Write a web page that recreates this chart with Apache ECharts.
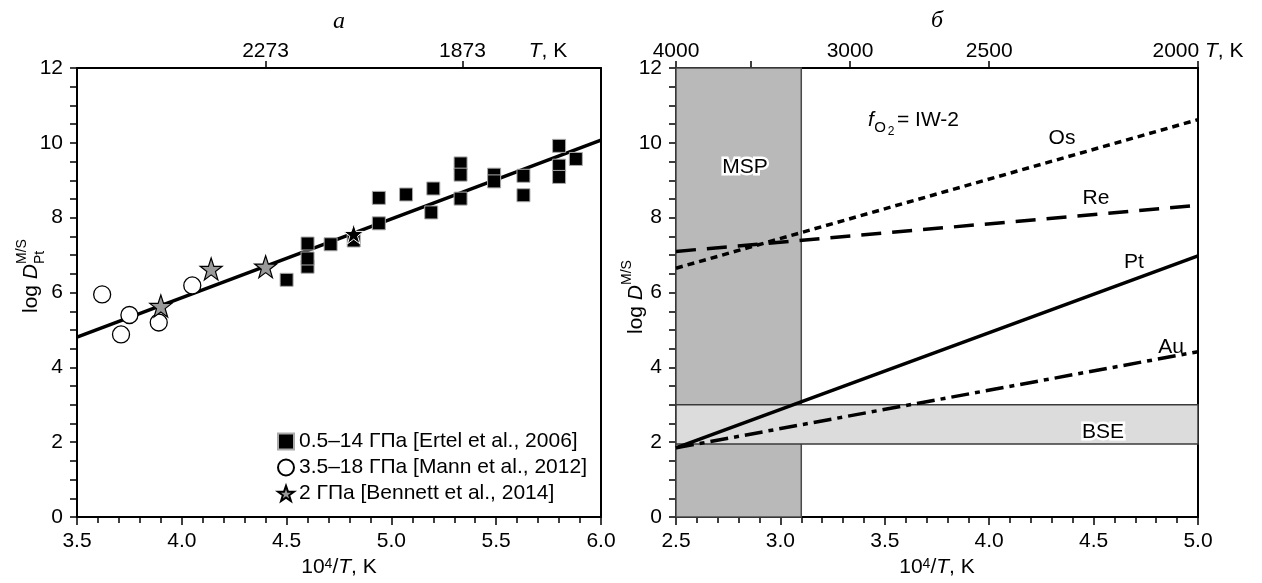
<!DOCTYPE html>
<html>
<head>
<meta charset="utf-8">
<script src="https://cdn.jsdelivr.net/npm/echarts@6/dist/echarts.min.js"></script>
<style>
  html, body { margin: 0; padding: 0; background: #fff; }
  #chart { width: 1262px; height: 583px; }
</style>
</head>
<body>
<div id="chart"></div>
<script>
// panel а: log D(Pt) vs 10^4/T
const ertelX = [4.50, 4.60, 4.60, 4.60, 4.71, 4.82, 4.94, 4.94, 5.07, 5.19, 5.20, 5.33, 5.33, 5.33, 5.49, 5.49, 5.63, 5.63, 5.80, 5.80, 5.80, 5.88];
const ertelY = [6.34, 7.31, 6.69, 6.91, 7.29, 7.39, 8.53, 7.85, 8.62, 8.14, 8.78, 9.45, 9.15, 8.51, 9.15, 8.97, 9.12, 8.60, 9.92, 9.39, 9.09, 9.57];
const mannX = [3.62, 3.71, 3.75, 3.89, 4.05];
const mannY = [5.95, 4.88, 5.40, 5.20, 6.19];
const bennettX = [3.90, 4.14, 4.40];
const bennettY = [5.64, 6.63, 6.69];
const bennettDarkX = [4.82];
const bennettDarkY = [7.57];
const fitX = [3.5, 6.0];
const fitY = [4.81, 10.07];
const topTempsLeft = [2273, 1873];

// panel б: model lines
const lineX = [2.5, 5.0];
const osY = [6.65, 10.62];
const reY = [7.10, 8.33];
const ptY = [1.85, 6.98];
const auY = [1.85, 4.42];
const mspRange = [2.5, 3.1];
const bseRange = [1.95, 3.0];
const topTempsRight = [4000, 3500, 3000, 2500, 2000];
const topLabelsRight = [4000, 3000, 2500, 2000];

const legendNames = ["0.5–14 ГПа [Ertel et al., 2006]", "3.5–18 ГПа [Mann et al., 2012]", "2 ГПа [Bennett et al., 2014]"];

const font = "'Liberation Sans', Arial, sans-serif";
const serif = "'Liberation Serif', 'Times New Roman', serif";
const star = "path://M50,2 L61.8,36.2 L97.6,36.2 L68.8,57.6 L79.4,92 L50,71.2 L20.6,92 L31.2,57.6 L2.4,36.2 L38.2,36.2 Z";
const fs = 21;

const pts = (xs, ys) => xs.map((x, i) => [x, ys[i]]);
const black = { color: "#000", width: 2 };
const tickStyle = { color: "#000", width: 1.5 };
const italic = { fontFamily: font, fontSize: fs, fontStyle: "italic", color: "#000" };

function bottomAxis(gridIndex, min, max) {
  return {
    type: "value", gridIndex, min, max, interval: 0.5,
    name: "10{sup|4}/{i|T}, K", nameLocation: "middle", nameGap: 38,
    nameTextStyle: {
      fontFamily: font, fontSize: fs, color: "#000",
      rich: {
        sup: { fontFamily: font, fontSize: 14, color: "#000", verticalAlign: "top", lineHeight: 21 },
        i: italic,
      },
    },
    axisLine: { show: true, onZero: false, lineStyle: black },
    axisTick: { show: true, length: 8, lineStyle: tickStyle },
    minorTick: { show: true, splitNumber: 5, length: 6, lineStyle: tickStyle },
    axisLabel: { fontFamily: font, fontSize: fs, color: "#000", margin: 14, formatter: (v) => v.toFixed(1) },
    splitLine: { show: false },
  };
}

function topAxis(gridIndex, min, max, tickTemps, labelTemps, unitAt) {
  return {
    type: "value", gridIndex, position: "top", min, max,
    axisLine: { show: true, onZero: false, lineStyle: black },
    axisTick: { show: true, length: 7, lineStyle: tickStyle, customValues: tickTemps.map((t) => 1e4 / t) },
    axisLabel: {
      fontFamily: font, fontSize: fs, color: "#000", margin: 6,
      customValues: labelTemps.map((t) => 1e4 / t),
      formatter: (v) => {
        const t = Math.round(1e4 / v);
        return t === unitAt ? t + " {i|T}, K" : String(t);
      },
      rich: { i: italic },
    },
    splitLine: { show: false },
  };
}

function leftAxis(gridIndex) {
  return {
    type: "value", gridIndex, min: 0, max: 12, interval: 2,
    axisLine: { show: true, onZero: false, lineStyle: black },
    axisTick: { show: true, length: 7, lineStyle: tickStyle },
    minorTick: { show: true, splitNumber: 4, length: 7, lineStyle: tickStyle },
    axisLabel: { fontFamily: font, fontSize: fs, color: "#000", margin: 14 },
    splitLine: { show: false },
  };
}

function rightLine(gridIndex) {
  return {
    type: "value", gridIndex, position: "right", min: 0, max: 12,
    axisLine: { show: true, onZero: false, lineStyle: black },
    axisTick: { show: false }, axisLabel: { show: false }, splitLine: { show: false },
  };
}

function label(text, x, y) {
  return { type: "text", x, y, z: 50, style: { text, fill: "#000", fontFamily: font, fontSize: fs, align: "center", verticalAlign: "middle" } };
}
function haloLabel(text, x, y) {
  const base = { fontFamily: font, fontSize: fs, align: "center", verticalAlign: "middle", text };
  return [
    { type: "text", x, y, z: 50, style: Object.assign({}, base, { fill: "#fff", stroke: "#fff", lineWidth: 5 }) },
    { type: "text", x, y, z: 51, style: Object.assign({}, base, { fill: "#000" }) },
  ];
}
function yName(x, y, withSub) {
  const kids = [
    { type: "text", x: -37, y: 0, style: { text: "log {i|D}", fill: "#000", fontFamily: font, fontSize: fs, align: "left", verticalAlign: "middle",
      rich: { i: { fontFamily: font, fontSize: fs, fontStyle: "italic", fill: "#000" } } } },
    { type: "text", x: 12, y: -9, style: { text: "M/S", fill: "#000", fontFamily: font, fontSize: 14, align: "left", verticalAlign: "middle" } },
  ];
  if (withSub) kids.push({ type: "text", x: 12, y: 9, style: { text: "Pt", fill: "#000", fontFamily: font, fontSize: 14, align: "left", verticalAlign: "middle" } });
  return { type: "group", x, y, rotation: Math.PI / 2, children: kids };
}

const chart = echarts.init(document.getElementById("chart"));

chart.setOption({
  backgroundColor: "#fff",
  animation: false,
  grid: [
    { left: 77, top: 68, width: 524, height: 456 },
    { left: 676, top: 68, width: 522, height: 456 },
  ],
  xAxis: [
    bottomAxis(0, 3.5, 6.0),
    topAxis(0, 3.5, 6.0, topTempsLeft, topTempsLeft, null),
    bottomAxis(1, 2.5, 5.0),
    topAxis(1, 2.5, 5.0, topTempsRight, topLabelsRight, 2000),
  ],
  yAxis: [leftAxis(0), rightLine(0), leftAxis(1), rightLine(1)],
  legend: {
    data: legendNames,
    orient: "vertical",
    left: 272, top: 426,
    itemWidth: 16, itemHeight: 16, itemGap: 5,
    textStyle: { fontFamily: font, fontSize: fs, color: "#000" },
  },
  series: [
    {
      type: "line", xAxisIndex: 0, yAxisIndex: 0, data: pts(fitX, fitY),
      symbol: "none", lineStyle: { color: "#000", width: 3.5 }, z: 2, silent: true,
    },
    {
      name: legendNames[0], type: "scatter", xAxisIndex: 0, yAxisIndex: 0, data: pts(ertelX, ertelY),
      symbol: "rect", symbolSize: 13, itemStyle: { color: "#000", borderColor: "#aaa", borderWidth: 1, opacity: 1 }, z: 4,
    },
    {
      name: legendNames[1], type: "scatter", xAxisIndex: 0, yAxisIndex: 0, data: pts(mannX, mannY),
      symbol: "circle", symbolSize: 17, itemStyle: { color: "#fff", borderColor: "#000", borderWidth: 1.3, opacity: 1 }, z: 4,
    },
    {
      name: legendNames[2], type: "scatter", xAxisIndex: 0, yAxisIndex: 0, data: pts(bennettX, bennettY),
      symbol: star, symbolSize: 22, itemStyle: { color: "#9a9a9a", borderColor: "#000", borderWidth: 1.2, opacity: 1 }, z: 5,
    },
    {
      name: "bennett-dark", type: "scatter", xAxisIndex: 0, yAxisIndex: 0, data: pts(bennettDarkX, bennettDarkY),
      symbol: star, symbolSize: 20, itemStyle: { color: "#000", borderColor: "#fff", borderWidth: 1, opacity: 1 }, z: 6,
    },
    {
      type: "line", xAxisIndex: 2, yAxisIndex: 2, data: [], silent: true,
      markArea: {
        silent: true, z: 1,
        itemStyle: { color: "#b9b9b9", borderColor: "#4a4a4a", borderWidth: 1.5 },
        data: [[{ xAxis: mspRange[0] }, { xAxis: mspRange[1] }]],
      },
    },
    {
      type: "line", xAxisIndex: 2, yAxisIndex: 2, data: [], silent: true,
      markArea: {
        silent: true, z: 2,
        itemStyle: { color: "#dcdcdc", borderColor: "#3a3a3a", borderWidth: 1.5 },
        data: [[{ yAxis: bseRange[0] }, { yAxis: bseRange[1] }]],
      },
    },
    { type: "line", xAxisIndex: 2, yAxisIndex: 2, data: pts(lineX, osY), symbol: "none", z: 5, silent: true,
      lineStyle: { color: "#000", width: 3.5, type: [7, 5] } },
    { type: "line", xAxisIndex: 2, yAxisIndex: 2, data: pts(lineX, reY), symbol: "none", z: 5, silent: true,
      lineStyle: { color: "#000", width: 3.5, type: [20, 11] } },
    { type: "line", xAxisIndex: 2, yAxisIndex: 2, data: pts(lineX, ptY), symbol: "none", z: 5, silent: true,
      lineStyle: { color: "#000", width: 3.5 } },
    { type: "line", xAxisIndex: 2, yAxisIndex: 2, data: pts(lineX, auY), symbol: "none", z: 5, silent: true,
      lineStyle: { color: "#000", width: 3.5, type: [18, 6, 5, 6] } },
  ],
  graphic: [
    { type: "text", x: 339, y: 22, style: { text: "а", fill: "#000", fontFamily: serif, fontSize: 24, fontStyle: "italic", align: "center", verticalAlign: "middle" } },
    { type: "text", x: 937, y: 21, style: { text: "б", fill: "#000", fontFamily: serif, fontSize: 24, fontStyle: "italic", align: "center", verticalAlign: "middle" } },
    { type: "text", x: 548, y: 51, style: { text: "{i|T}, K", fill: "#000", fontFamily: font, fontSize: fs, align: "center", verticalAlign: "middle",
      rich: { i: { fontFamily: font, fontSize: fs, fontStyle: "italic", fill: "#000" } } } },
    yName(31, 276, true),
    yName(636, 297, false),
    label("Os", 1062, 138),
    label("Re", 1096, 198),
    label("Pt", 1134, 262),
    label("Au", 1171, 347),
    ...haloLabel("MSP", 745, 167),
    ...haloLabel("BSE", 1103, 432),
    { type: "text", x: 871, y: 120, style: { text: "f", fill: "#000", fontFamily: font, fontSize: fs, fontStyle: "italic", align: "center", verticalAlign: "middle" } },
    { type: "text", x: 880, y: 128, style: { text: "O", fill: "#000", fontFamily: font, fontSize: 15, align: "center", verticalAlign: "middle" } },
    { type: "text", x: 891, y: 132, style: { text: "2", fill: "#000", fontFamily: font, fontSize: 12, align: "center", verticalAlign: "middle" } },
    { type: "text", x: 897, y: 120, style: { text: "= IW-2", fill: "#000", fontFamily: font, fontSize: fs, align: "left", verticalAlign: "middle" } },
  ],
});

window.addEventListener("resize", () => chart.resize());
</script>
</body>
</html>
